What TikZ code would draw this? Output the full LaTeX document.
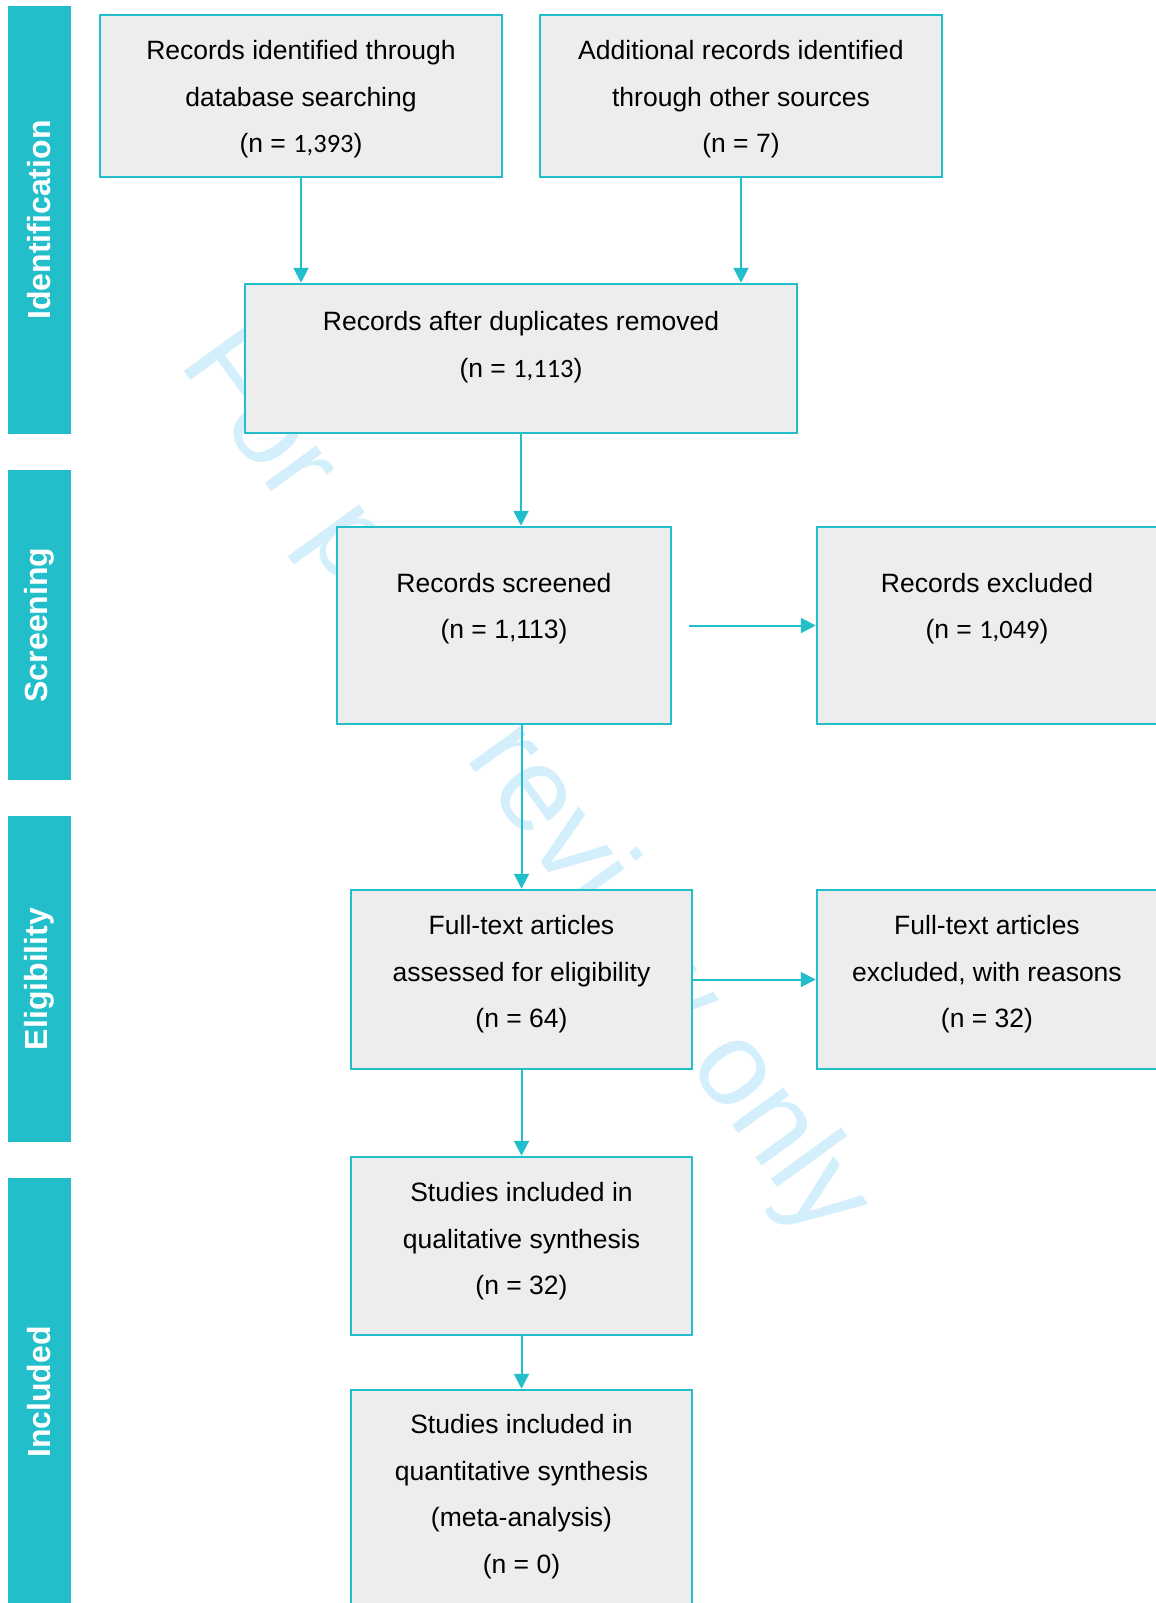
\documentclass[tikz,border=0pt]{standalone}
\usepackage{fontspec}
\setmainfont{Liberation Sans}
\newfontfamily\numfont{Carlito}
\usetikzlibrary{arrows.meta,positioning}

\definecolor{prismateal}{RGB}{34,190,202}
\definecolor{boxgrey}{RGB}{237,237,237}
\definecolor{watermark}{RGB}{212,239,252}

\begin{document}
\begin{tikzpicture}[x=1pt,y=-1pt,
    box/.style={shape=rectangle,draw=prismateal,fill=boxgrey,line width=2.5pt,inner sep=0pt},
    boxtext/.style={align=center,inner sep=0pt,font=\fontsize{26.5}{46.5}\selectfont},
    phase/.style={shape=rectangle,rotate=90,fill=prismateal,text=white,inner sep=0pt,
      minimum height=63pt,font=\fontsize{32}{38}\selectfont\bfseries},
    flow/.style={-{Triangle[length=15pt,width=15pt]},draw=prismateal,line width=2pt}]
		\path[use as bounding box,clip] (0,0) rectangle (1156,1603);

		\node (wm) at (498,803) [rotate=-54,anchor=base,inner sep=0pt,text=watermark,
      font=\fontsize{120}{120}\selectfont] {For peer review only};

		\node (ident) at (39.5,220) [phase,minimum width=428pt] {Identification};
		\node (screen) at (39.5,625) [phase,minimum width=310pt] {Screening};
		\node (elig) at (39.5,979) [phase,minimum width=326pt] {Eligibility};
		\node (incl) at (39.5,1392) [phase,minimum width=428pt] {Included};

		\node (dbsearch) at (301,96) [box,minimum width=402pt,minimum height=162pt] {};
		\node (other) at (741,96) [box,minimum width=402pt,minimum height=162pt] {};
		\node (dedup) at (521,358.5) [box,minimum width=552pt,minimum height=149pt] {};
		\node (screened) at (504,625.5) [box,minimum width=334pt,minimum height=197pt] {};
		\node (excluded) at (987,625.5) [box,minimum width=340pt,minimum height=197pt] {};
		\node (fulltext) at (521.5,979.5) [box,minimum width=341pt,minimum height=179pt] {};
		\node (ftexcl) at (987,979.5) [box,minimum width=340pt,minimum height=179pt] {};
		\node (qual) at (521.5,1246) [box,minimum width=341pt,minimum height=178pt] {};
		\node (quant) at (521.5,1498) [box,minimum width=341pt,minimum height=216pt] {};

		\node (dbsearch-t) at (301,99.5) [boxtext] {Records identified through\\database searching\\(n = {\numfont 1,393})};
		\node (other-t) at (741,99.5) [boxtext] {Additional records identified\\through other sources\\(n = 7)};
		\node (dedup-t) at (521,347) [boxtext] {Records after duplicates removed\\(n = {\numfont 1,113})};
		\node (screened-t) at (504,608.5) [boxtext] {Records screened\\(n = 1,113)};
		\node (excluded-t) at (987,608.5) [boxtext] {Records excluded\\(n = {\numfont 1,049})};
		\node (fulltext-t) at (521.5,974.5) [boxtext] {Full-text articles\\assessed for eligibility\\(n = 64)};
		\node (ftexcl-t) at (987,974.5) [boxtext] {Full-text articles\\excluded, with reasons\\(n = 32)};
		\node (qual-t) at (521.5,1241.5) [boxtext] {Studies included in\\qualitative synthesis\\(n = 32)};
		\node (quant-t) at (521.5,1496.5) [boxtext] {Studies included in\\quantitative synthesis\\(meta-analysis)\\(n = 0)};

		\draw [flow] (dbsearch.south) -- (dbsearch.south |- dedup.north);
		\draw [flow] (other.south) -- (other.south |- dedup.north);
		\draw [flow] (dedup.south) -- (dedup.south |- screened.north);
		\draw [flow] ([xshift=17pt]screened.east) -- (excluded.west);
		\draw [flow] (fulltext.north |- screened.south) -- (fulltext.north);
		\draw [flow] (fulltext.east) -- (ftexcl.west);
		\draw [flow] (fulltext.south) -- (qual.north);
		\draw [flow] (qual.south) -- (quant.north);
	\end{tikzpicture}
\end{document}
